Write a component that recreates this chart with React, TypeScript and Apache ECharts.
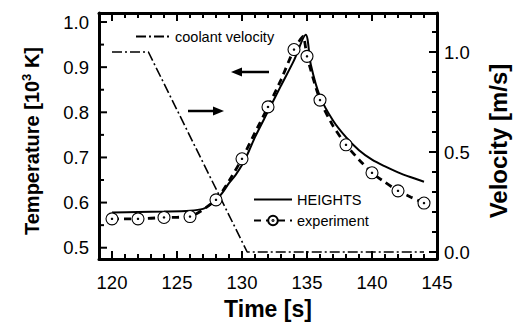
import React, { useEffect, useRef } from "react";
import * as echarts from "echarts";

const heightsT = [120, 122, 124, 126, 127, 127.5, 128, 128.5, 129, 129.5, 130, 130.5, 131, 132, 133, 134, 134.9, 135.3, 136, 137, 138, 139, 140, 141, 142, 143, 144];
const heightsV = [0.578, 0.579, 0.58, 0.582, 0.586, 0.594, 0.605, 0.622, 0.643, 0.661, 0.683, 0.712, 0.745, 0.802, 0.859, 0.915, 0.972, 0.905, 0.835, 0.782, 0.745, 0.716, 0.695, 0.68, 0.667, 0.656, 0.646];

const expT = [120, 122, 124, 126, 128, 129, 130, 131, 132, 133, 134, 134.7, 135, 136, 137, 138, 139, 140, 141, 142, 143, 144];
const expV = [0.564, 0.564, 0.567, 0.569, 0.606, 0.648, 0.697, 0.755, 0.812, 0.872, 0.939, 0.968, 0.924, 0.827, 0.77, 0.728, 0.695, 0.666, 0.645, 0.626, 0.612, 0.599];
const expMarked = [true, true, true, true, true, false, true, false, true, false, true, false, true, true, false, true, false, true, false, true, false, true];

const velT = [120, 122.8, 130.4, 144];
const velV = [1.0, 1.0, 0.0, 0.0];

const X_MIN = 119, X_MAX = 145;
const T_MIN = 0.475, T_MAX = 1.02;
const V_MIN = -0.035, V_MAX = 1.195;
const xMajor = [120, 125, 130, 135, 140, 145];
const xMinor = [121, 122, 123, 124, 126, 127, 128, 129, 131, 132, 133, 134, 136, 137, 138, 139, 141, 142, 143, 144];
const tMajor = [0.5, 0.6, 0.7, 0.8, 0.9, 1.0];
const tMinor = [0.55, 0.65, 0.75, 0.85, 0.95];
const vMajor = [0.0, 0.5, 1.0];
const vMinor = [0.1, 0.2, 0.3, 0.4, 0.6, 0.7, 0.8, 0.9, 1.1];

const FONT = "'Liberation Sans', Arial, Helvetica, sans-serif";
const CIRCLE = "path://M12,6A6,6,0,1,1,0,6A6,6,0,1,1,12,6ZM6.7,6A0.7,0.7,0,1,1,5.3,6A0.7,0.7,0,1,1,6.7,6Z";

function mkLine() {
  return { show: true, onZero: false, lineStyle: { color: "#000", width: 3 } };
}

export default function App() {
  const ref = useRef<HTMLDivElement>(null);
  useEffect(() => {
    if (!ref.current) return;
    const chart = echarts.init(ref.current, undefined, { renderer: "svg" });
    const labelStyle = { color: "#000", fontSize: 18.5, fontFamily: FONT };
    const nameStyle = { color: "#000", fontSize: 20, fontWeight: "bold" as const, fontFamily: FONT };
    const arrows = [
      { type: "line", shape: { x1: 240, y1: 72, x2: 269, y2: 72 }, style: { stroke: "#000", lineWidth: 2.5 } },
      { type: "polygon", shape: { points: [[231, 72], [242, 67.5], [242, 76.5]] }, style: { fill: "#000" } },
      { type: "line", shape: { x1: 188, y1: 111, x2: 216, y2: 111 }, style: { stroke: "#000", lineWidth: 2.5 } },
      { type: "polygon", shape: { points: [[224, 111], [213, 106.5], [213, 115.5]] }, style: { fill: "#000" } },
    ];
    chart.setOption({
      animation: false,
      backgroundColor: "#fff",
      grid: { left: 99, right: 78, top: 13, bottom: 66 },
      legend: [
        {
          data: ["coolant velocity"],
          left: 130,
          top: 24,
          itemWidth: 34,
          itemHeight: 12,
          itemGap: 6,
          textStyle: { color: "#000", fontSize: 14.5, fontFamily: FONT },
        },
        {
          data: ["HEIGHTS", "experiment"],
          orient: "vertical",
          left: 248,
          top: 187,
          itemWidth: 38,
          itemHeight: 12,
          itemGap: 6,
          textStyle: { color: "#000", fontSize: 14.5, fontFamily: FONT },
        },
      ],
      xAxis: [
        {
          type: "value",
          min: X_MIN,
          max: X_MAX,
          splitNumber: 5,
          position: "bottom",
          axisLine: mkLine(),
          axisTick: { show: false },
          splitLine: { show: false },
          name: "Time [s]",
          nameLocation: "middle",
          nameGap: 38,
          nameTextStyle: { ...nameStyle, fontSize: 23 },
          axisLabel: {
            ...labelStyle,
            margin: 14,
            formatter: (v: number) => (v % 5 === 0 ? String(v) : ""),
          },
        },
        {
          type: "value",
          min: X_MIN,
          max: X_MAX,
          position: "top",
          axisLine: mkLine(),
          axisTick: { show: false },
          splitLine: { show: false },
          axisLabel: { show: false },
        },
      ],
      yAxis: [
        {
          type: "value",
          min: T_MIN,
          max: T_MAX,
          splitNumber: 5,
          position: "left",
          axisLine: mkLine(),
          axisTick: { show: false },
          splitLine: { show: false },
          name: "Temperature [10{sup|3} K]",
          nameLocation: "middle",
          nameRotate: 90,
          nameGap: 56,
          nameTextStyle: {
            ...nameStyle,
            padding: [0, 10, 0, 0],
            rich: {
              sup: { fontSize: 13, fontWeight: "bold", fontFamily: FONT, color: "#000", verticalAlign: "top", padding: [0, 0, 10, 0] },
            },
          },
          axisLabel: {
            ...labelStyle,
            margin: 10,
            formatter: (v: number) => {
              const r = Math.round(v * 10) / 10;
              return Math.abs(r - v) < 1e-6 ? r.toFixed(1) : "";
            },
          },
        },
        {
          type: "value",
          min: V_MIN,
          max: V_MAX,
          splitNumber: 2,
          position: "right",
          axisLine: mkLine(),
          axisTick: { show: false },
          splitLine: { show: false },
          name: "Velocity [m/s]",
          nameLocation: "middle",
          nameRotate: 90,
          nameGap: 49,
          nameTextStyle: { ...nameStyle, fontSize: 24, padding: [0, 10, 0, 0] },
          axisLabel: {
            ...labelStyle,
            margin: 7,
            formatter: (v: number) => {
              const r = Math.round(v * 2) / 2;
              return Math.abs(r - v) < 1e-6 ? r.toFixed(1) : "";
            },
          },
        },
      ],
      series: [
        {
          name: "coolant velocity",
          type: "line",
          xAxisIndex: 0,
          yAxisIndex: 1,
          data: velT.map((t, i) => [t, velV[i]]),
          symbol: "circle",
          showSymbol: false,
          lineStyle: { color: "#000", width: 1.6, type: [10, 3, 2, 3] },
          itemStyle: { color: "rgba(0,0,0,0)" },
        },
        {
          name: "HEIGHTS",
          type: "line",
          xAxisIndex: 0,
          yAxisIndex: 0,
          data: heightsT.map((t, i) => [t, heightsV[i]]),
          symbol: "circle",
          showSymbol: false,
          smooth: 0.3,
          lineStyle: { color: "#000", width: 2 },
          itemStyle: { color: "rgba(0,0,0,0)" },
          z: 3,
        },
        {
          name: "experiment",
          type: "line",
          xAxisIndex: 0,
          yAxisIndex: 0,
          data: expT.map((t, i) =>
            expMarked[i] ? { value: [t, expV[i]] } : { value: [t, expV[i]], symbol: "none" }
          ),
          symbol: CIRCLE,
          symbolSize: 12,
          showAllSymbol: true,
          smooth: 0.2,
          lineStyle: { color: "#000", width: 2.8, type: [7, 5] },
          itemStyle: { color: "#fff", borderColor: "#000", borderWidth: 1.1 },
          z: 4,
        },
      ],
      graphic: arrows,
    });

    // ticks, positioned through the axes' own scales
    const px = (v: number) => chart.convertToPixel({ xAxisIndex: 0 }, v) as number;
    const pyT = (v: number) => chart.convertToPixel({ yAxisIndex: 0 }, v) as number;
    const pyV = (v: number) => chart.convertToPixel({ yAxisIndex: 1 }, v) as number;
    const left = px(X_MIN);
    const right = px(X_MAX);
    const bottom = pyT(T_MIN);
    const top = pyT(T_MAX);
    const st = { stroke: "#000", lineWidth: 2 };
    const ticks: any[] = [];
    const addX = (vals: number[], len: number) =>
      vals.forEach((v) => {
        const x = px(v);
        ticks.push({ type: "line", z: 50, shape: { x1: x, y1: bottom, x2: x, y2: bottom - len }, style: st });
        ticks.push({ type: "line", z: 50, shape: { x1: x, y1: top, x2: x, y2: top + len }, style: st });
      });
    const addY = (vals: number[], len: number, conv: (v: number) => number, x0: number, dir: number) =>
      vals.forEach((v) => {
        const y = conv(v);
        ticks.push({ type: "line", z: 50, shape: { x1: x0, y1: y, x2: x0 + dir * len, y2: y }, style: st });
      });
    addX(xMajor, 8);
    addX(xMinor, 5);
    addY(tMajor, 8, pyT, left, 1);
    addY(tMinor, 5, pyT, left, 1);
    addY(vMajor, 8, pyV, right, -1);
    addY(vMinor, 5, pyV, right, -1);
    chart.setOption({ graphic: [...arrows, ...ticks] });

    return () => chart.dispose();
  }, []);
  return <div ref={ref} style={{ width: 518, height: 325, position: "absolute", left: 0, top: 0 }} />;
}
